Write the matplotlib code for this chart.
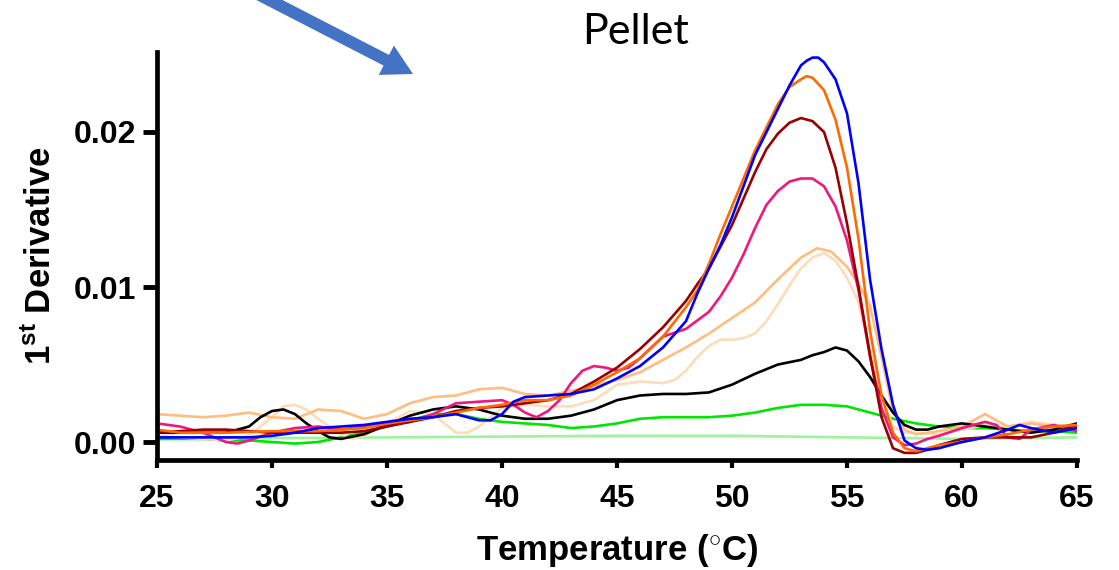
import matplotlib
matplotlib.use("Agg")
import matplotlib.pyplot as plt
import matplotlib.patches as mpatches
import matplotlib.transforms as mtransforms

# melt curves, 1st derivative vs temperature
blue_t = [25, 27, 29, 30, 31, 32, 33, 34, 35, 36, 37, 38, 39, 39.5, 40, 40.5, 41, 42, 43, 44, 45, 46, 47, 48, 48.5,
          49, 49.5, 50, 50.5, 51, 51.5, 52, 52.5, 53, 53.25, 53.5, 53.75, 54, 54.5, 55, 55.5, 56, 56.5, 57, 57.5,
          58, 58.5, 59, 60, 61, 62, 62.5, 63, 64, 65]
blue_v = [0.0003, 0.0003, 0.0003, 0.0004, 0.0006, 0.0009, 0.0010, 0.0011, 0.0013, 0.0015, 0.0016, 0.0018, 0.0014,
          0.0014, 0.0018, 0.0026, 0.0029, 0.0030, 0.0031, 0.0034, 0.0041, 0.0049, 0.0061, 0.0078, 0.0096,
          0.0112, 0.0127, 0.0145, 0.0165, 0.0185, 0.0200, 0.0215, 0.0230, 0.0243, 0.0246, 0.0248, 0.0248,
          0.0245, 0.0234, 0.0212, 0.0167, 0.0105, 0.0060, 0.0024, 0.0001,
          -0.0004, -0.0005, -0.0004, 0.0000, 0.0003, 0.0008, 0.0011, 0.0009, 0.0006, 0.0009]

orange_t = [25, 26, 28, 30, 32, 33, 34, 35, 36, 37, 38, 39, 40, 41, 42, 43, 44, 45, 46, 47, 48, 48.5, 49, 49.5,
            50, 50.5, 51, 51.5, 52, 52.5, 53, 53.25, 53.5, 54, 54.5, 55, 55.5, 56, 56.5, 57, 57.5, 58, 58.5, 59,
            60, 61, 62, 63, 64, 65]
orange_v = [0.0008, 0.0006, 0.0006, 0.0007, 0.0007, 0.0008, 0.0009, 0.0012, 0.0014, 0.0016, 0.0019, 0.0022,
            0.0024, 0.0027, 0.0027, 0.0030, 0.0037, 0.0045, 0.0054, 0.0068, 0.0087, 0.0098, 0.0115, 0.0134,
            0.0152, 0.0170, 0.0188, 0.0203, 0.0218, 0.0229, 0.0234, 0.0236, 0.0235, 0.0227, 0.0208, 0.0177,
            0.0131, 0.0072, 0.0030, 0.0006, -0.0004, -0.0006, -0.0004, -0.0002,
            0.0000, 0.0003, 0.0005, 0.0008, 0.0010, 0.0011]

darkred_t = [25, 26, 27, 28, 29, 30, 32, 33, 34, 35, 36, 37, 38, 39, 40, 41, 42, 43, 44, 45, 46, 47, 48, 48.5,
             49, 49.5, 50, 50.5, 51, 51.5, 52, 52.5, 53, 53.5, 54, 54.5, 55, 55.5, 56, 56.5, 57, 57.5, 58, 58.5,
             59, 60, 61, 62, 63, 64, 65]
darkred_v = [0.0006, 0.0007, 0.0008, 0.0008, 0.0007, 0.0006, 0.0006, 0.0006, 0.0007, 0.0010, 0.0013, 0.0016,
             0.0020, 0.0022, 0.0023, 0.0025, 0.0027, 0.0031, 0.0039, 0.0048, 0.0060, 0.0074, 0.0091, 0.0102,
             0.0112, 0.0126, 0.0140, 0.0157, 0.0174, 0.0189, 0.0199, 0.0206, 0.0209, 0.0207, 0.0200, 0.0177,
             0.0141, 0.0100, 0.0056, 0.0016, -0.0004, -0.0007, -0.0007, -0.0005,
             -0.0002, 0.0002, 0.0003, 0.0003, 0.0003, 0.0006, 0.0011]

pink_t = [25, 26, 27, 28, 28.5, 29, 30, 31, 32, 33, 34, 35, 36, 37, 38, 39, 40, 40.5, 41, 41.5, 42, 42.5, 43,
          43.5, 44, 44.5, 45, 45.5, 46, 47, 48, 49, 49.5, 50, 50.5, 51, 51.5, 52, 52.5, 53, 53.5, 54, 54.5, 55,
          55.5, 56, 56.5, 57, 57.5, 58, 58.5, 59, 60, 61, 61.5, 62, 62.5, 63, 64, 65]
pink_v = [0.0012, 0.0010, 0.0006, 0.0000, -0.0001, 0.0001, 0.0006, 0.0009, 0.0010, 0.0008, 0.0010, 0.0011,
          0.0013, 0.0018, 0.0025, 0.0026, 0.0027, 0.0024, 0.0019, 0.0016, 0.0020, 0.0027, 0.0038, 0.0046,
          0.0049, 0.0048, 0.0046, 0.0048, 0.0054, 0.0068, 0.0073, 0.0084, 0.0094, 0.0106, 0.0121, 0.0138,
          0.0153, 0.0162, 0.0168, 0.0170, 0.0170, 0.0165, 0.0152, 0.0130, 0.0098, 0.0055, 0.0022, 0.0003,
          -0.0002, -0.0001, 0.0002, 0.0004, 0.0009, 0.0013, 0.0011, 0.0003, 0.0002, 0.0008, 0.0011, 0.0007]

ltorange_t = [25, 26, 27, 28, 29, 30, 31, 32, 33, 34, 35, 36, 37, 38, 39, 40, 41, 42, 43, 44, 45, 46, 47, 48, 49,
              50, 51, 52, 53, 53.7, 54.3, 55, 55.5, 56, 56.5, 57, 57.5, 58, 59, 60, 61, 62, 63, 64, 65]
ltorange_v = [0.0018, 0.0017, 0.0016, 0.0017, 0.0019, 0.0016, 0.0015, 0.0021, 0.0020, 0.0015, 0.0018, 0.0025,
              0.0029, 0.0030, 0.0034, 0.0035, 0.0031, 0.0030, 0.0033, 0.0036, 0.0040, 0.0045, 0.0053, 0.0061,
              0.0070, 0.0080, 0.0090, 0.0105, 0.0119, 0.0125, 0.0123, 0.0113, 0.0102, 0.0088, 0.0055, 0.0020,
              0.0008, 0.0005, 0.0007, 0.0010, 0.0018, 0.0010, 0.0012, 0.0010, 0.0009]

peach_t = [25, 26, 27, 28, 29, 30, 30.5, 31, 31.5, 32, 33, 33.5, 34, 35, 36, 37, 37.5, 38, 38.5, 39, 40, 41, 42,
           43, 44, 45, 46, 47, 47.5, 48, 48.5, 49, 49.5, 50, 50.5, 51, 51.5, 52, 52.5, 53, 53.5, 54, 54.5, 55,
           55.5, 56, 56.5, 57, 57.5, 58, 59, 60, 61, 62, 63, 64, 65]
peach_v = [0.0004, 0.0003, 0.0002, 0.0001, 0.0004, 0.0016, 0.0023, 0.0024, 0.0021, 0.0015, 0.0005, 0.0002,
           0.0004, 0.0012, 0.0020, 0.0018, 0.0012, 0.0006, 0.0006, 0.0010, 0.0022, 0.0024, 0.0023, 0.0023,
           0.0027, 0.0037, 0.0039, 0.0038, 0.0040, 0.0046, 0.0055, 0.0062, 0.0066, 0.0066, 0.0067, 0.0070,
           0.0078, 0.0089, 0.0101, 0.0112, 0.0119, 0.0122, 0.0117, 0.0106, 0.0090, 0.0060, 0.0030, 0.0010,
           0.0006, 0.0006, 0.0005, 0.0008, 0.0011, 0.0010, 0.0013, 0.0011, 0.0010]

black_t = [25, 26, 27, 28, 29, 29.5, 30, 30.5, 31, 31.5, 32, 32.5, 33, 34, 35, 36, 37, 38, 39, 40, 41, 42, 43,
           44, 45, 46, 47, 48, 49, 50, 51, 52, 53, 53.5, 54, 54.5, 55, 55.5, 56, 56.5, 57, 57.5, 58, 58.5, 59,
           60, 61, 62, 63, 64, 65]
black_v = [0.0006, 0.0006, 0.0006, 0.0006, 0.0010, 0.0016, 0.0020, 0.0021, 0.0018, 0.0012, 0.0007, 0.0003,
           0.0002, 0.0005, 0.0011, 0.0017, 0.0021, 0.0023, 0.0021, 0.0017, 0.0015, 0.0015, 0.0017, 0.0021,
           0.0027, 0.0030, 0.0031, 0.0031, 0.0032, 0.0037, 0.0044, 0.0050, 0.0053, 0.0056, 0.0058, 0.0061,
           0.0059, 0.0052, 0.0042, 0.0030, 0.0019, 0.0011, 0.0008, 0.0008, 0.0010, 0.0012, 0.0010, 0.0008,
           0.0006, 0.0008, 0.0012]

green_t = [25, 26, 27, 28, 29, 30, 31, 32, 33, 34, 35, 36, 37, 38, 39, 40, 41, 42, 43, 44, 45, 46, 47, 48, 49,
           50, 51, 52, 53, 54, 55, 56, 57, 58, 59, 60, 61, 62, 63, 64, 65]
green_v = [0.0002, 0.0002, 0.0002, 0.0001, 0.0001, 0.0000, -0.0001, 0.0000, 0.0003, 0.0006, 0.0010, 0.0014,
           0.0018, 0.0018, 0.0015, 0.0013, 0.0012, 0.0011, 0.0009, 0.0010, 0.0012, 0.0015, 0.0016, 0.0016,
           0.0016, 0.0017, 0.0019, 0.0022, 0.0024, 0.0024, 0.0023, 0.0019, 0.0015, 0.0012, 0.0010, 0.0009,
           0.0009, 0.0008, 0.0007, 0.0007, 0.0006]

ltgreen_t = [25, 35, 45, 50, 55, 60, 65]
ltgreen_v = [0.0002, 0.0003, 0.0004, 0.0004, 0.0003, 0.0002, 0.0003]

series = [
    (ltgreen_t, ltgreen_v, '#9CF59C'),
    (green_t, green_v, '#00E600'),
    (peach_t, peach_v, '#FFDCB8'),
    (ltorange_t, ltorange_v, '#FFBE80'),
    (black_t, black_v, '#000000'),
    (pink_t, pink_v, '#F0187F'),
    (darkred_t, darkred_v, '#990000'),
    (orange_t, orange_v, '#FF6A00'),
    (blue_t, blue_v, '#0000FF'),
]

plt.rcParams['font.family'] = ['Liberation Sans', 'DejaVu Sans']
plt.rcParams['mathtext.fontset'] = 'custom'
plt.rcParams['mathtext.rm'] = 'Liberation Sans'
plt.rcParams['mathtext.bf'] = 'Liberation Sans:bold'

fig = plt.figure(figsize=(11.19, 5.70), dpi=100)
ax = fig.add_axes([157 / 1119, 1 - 460 / 570, 920 / 1119, 408 / 570])

for t, v, c in series:
    ax.plot(t, v, color=c, lw=1.9, solid_capstyle='round', solid_joinstyle='round')

ax.set_xlim(25, 65)
ax.set_ylim(-0.00116, 0.02516)
ax.set_xticks(range(25, 66, 5))
ax.set_yticks([0.0, 0.01, 0.02])
ax.set_yticklabels(['0.00', '0.01', '0.02'])

for side in ['top', 'right']:
    ax.spines[side].set_visible(False)
for side in ['left', 'bottom']:
    ax.spines[side].set_linewidth(3.4)

ax.tick_params(axis='x', length=6, width=3, pad=11, labelsize=23)
ax.tick_params(axis='y', length=10, width=3.5, pad=5, labelsize=23)
for lab in ax.get_xticklabels() + ax.get_yticklabels():
    lab.set_fontweight('bold')

ax.set_xlabel(r'Temperature (${}^{\circ}$C)', fontsize=25, fontweight='bold', labelpad=13)
ax.set_ylabel(r'1$^{\mathbf{st}}$ Derivative', fontsize=25, fontweight='bold', labelpad=11)

fig.text(635 / 1119, 1 - 32 / 570, 'Pellet', fontsize=31, family='Lato', ha='center', va='center')

# blue arrow pointing into the plot (pixel coordinates)
arrow = mpatches.FancyArrow(250, 580, 163, -84, width=12, head_width=33, head_length=30,
                            length_includes_head=True, color='#4472C4', lw=0,
                            transform=mtransforms.IdentityTransform())
fig.add_artist(arrow)

fig.savefig('out.png', dpi=100)
